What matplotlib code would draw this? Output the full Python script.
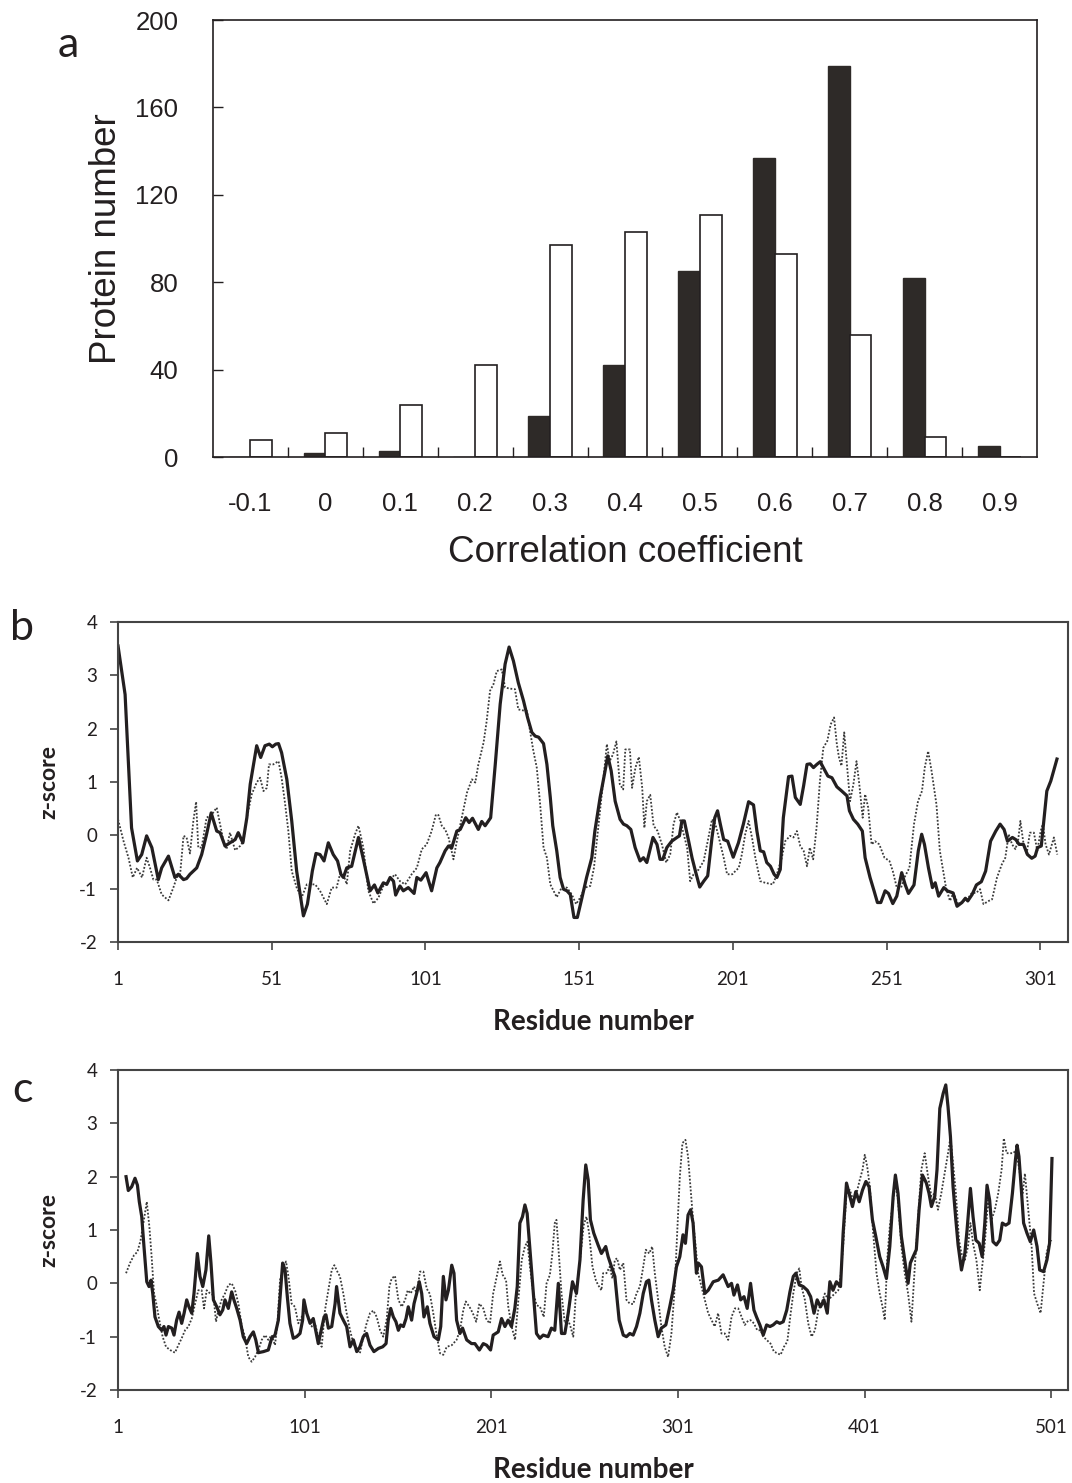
import matplotlib
matplotlib.use("Agg")
import matplotlib.pyplot as plt
import numpy as np

plt.rcParams["axes.unicode_minus"] = False

# panel a: histogram of correlation coefficients
categories = ["-0.1", "0", "0.1", "0.2", "0.3", "0.4", "0.5", "0.6", "0.7", "0.8", "0.9"]
black_counts = [0, 2, 3, 0, 19, 42, 85, 137, 179, 82, 5]
white_counts = [8, 11, 24, 42, 97, 103, 111, 93, 56, 9, 0]

# panel b: z-score profiles (residue, z)
b_solid = [
    (1, 3.55), (3.3, 2.64), (5.4, 0.14), (7.3, -0.48), (8.7, -0.36), (10.3, -0.01), (12, -0.23),
    (14.1, -0.83), (15.2, -0.61), (17.4, -0.39), (19.5, -0.79), (20.6, -0.73), (22.3, -0.83),
    (23.3, -0.81), (24.4, -0.73), (26.6, -0.61), (28.2, -0.36), (29.8, 0.02), (31.3, 0.42),
    (33.1, 0.08), (34.2, 0.05), (35.8, -0.2), (37.4, -0.14), (39.1, -0.08), (40.1, 0.05),
    (41.6, -0.14), (42.9, 0.33), (44, 0.96), (46.1, 1.68), (47.4, 1.46), (48.8, 1.68), (50.2, 1.71),
    (51.2, 1.66), (52.3, 1.71), (53.2, 1.72), (54.2, 1.55), (55.9, 1.05), (57.5, 0.27), (59.1, -0.67),
    (61.3, -1.51), (62.6, -1.29), (64.2, -0.67), (65.4, -0.34), (66.7, -0.36), (68, -0.48),
    (69.4, -0.14), (71, -0.36), (72.4, -0.48), (73.5, -0.73), (74.3, -0.79), (75.4, -0.61),
    (77, -0.58), (79.2, -0.04), (80.8, -0.45), (83, -1.04), (84.4, -0.93), (85.5, -1.08),
    (87.3, -0.89), (88.4, -0.92), (89.5, -0.79), (90.6, -0.86), (91.3, -1.12), (92.7, -0.95),
    (93.8, -1.04), (95.4, -0.98), (97.3, -1.09), (98.2, -0.79), (99.5, -0.84), (101.2, -0.7),
    (103, -1.04), (104.7, -0.61), (105.7, -0.51), (107.4, -0.29), (108.5, -0.2), (109.5, -0.24),
    (111.2, 0.08), (112.3, 0.11), (114.1, 0.33), (115.2, 0.24), (116.3, 0.32), (118.2, 0.11),
    (119.3, 0.26), (120.4, 0.18), (122.2, 0.33), (123.7, 1.33), (125.3, 2.46), (126.9, 3.21),
    (128.2, 3.53), (129.6, 3.27), (131.2, 2.86), (132.9, 2.52), (134.2, 2.21), (135.6, 1.93),
    (136.7, 1.86), (137.8, 1.84), (139.4, 1.72), (140.5, 1.33), (141.6, 0.71), (142.4, 0.18),
    (143.7, -0.29), (144.8, -0.79), (145.9, -1.01), (147, -1.04), (148.1, -1.11), (149.3, -1.54),
    (150.4, -1.54), (151.9, -1.17), (153.4, -0.79), (155.1, -0.42), (156.1, 0.08), (157.8, 0.71),
    (159.2, 1.14), (160.3, 1.49), (161.4, 1.21), (162.7, 0.64), (164.3, 0.3), (165.4, 0.21),
    (166.5, 0.18), (167.8, 0.11), (169.2, -0.23), (170.8, -0.48), (171.9, -0.42), (173, -0.51),
    (175, -0.04), (176.3, -0.17), (177.3, -0.45), (178.2, -0.45), (179.5, -0.23), (181.1, -0.11),
    (182.8, -0.04), (183.6, -0.01), (184.4, 0.27), (185.2, 0.27), (186.6, -0.11), (187.7, -0.42),
    (188.8, -0.67), (190.2, -0.97), (191.5, -0.86), (192.8, -0.76), (194.2, -0.04), (195.1, 0.33),
    (196, 0.46), (196.9, 0.21), (198, -0.08), (199.3, -0.11), (201.1, -0.41), (202.8, -0.14),
    (204.4, 0.21), (206.1, 0.63), (207.7, 0.57), (208.8, 0.08), (209.9, -0.29), (211, -0.31),
    (212, -0.51), (213.2, -0.58), (214.4, -0.73), (215.3, -0.79), (216.4, -0.64), (217.4, 0.33),
    (219.1, 1.1), (220.2, 1.11), (221.3, 0.71), (222.9, 0.58), (224, 0.93), (225.1, 1.33),
    (226.1, 1.34), (227.2, 1.27), (228.3, 1.33), (229.4, 1.38), (230.4, 1.27), (231.9, 1.11),
    (233.2, 1.08), (234.8, 0.91), (236.4, 0.83), (238.1, 0.74), (238.9, 0.46), (240.2, 0.3),
    (241.6, 0.21), (243.1, 0.08), (244, -0.42), (245.6, -0.79), (246.9, -1.04), (248, -1.26),
    (249.1, -1.26), (250.5, -1.04), (251.6, -1.09), (253, -1.28), (254.3, -1.14), (255.9, -0.7),
    (257, -0.92), (258.1, -1.09), (259.9, -0.93), (261.3, -0.29), (262.4, 0.02), (263.3, -0.17),
    (264.6, -0.61), (265.9, -0.98), (266.8, -0.89), (267.9, -1.14), (269.6, -0.98), (270.7, -1.04),
    (272.6, -1.08), (273.9, -1.33), (275.5, -1.26), (276.6, -1.18), (277.4, -1.23), (278.8, -1.11),
    (280.2, -0.93), (281.8, -0.87), (283.2, -0.67), (284.8, -0.11), (286.5, 0.08), (287.9, 0.21),
    (289.2, 0.11), (290.3, -0.11), (291.9, -0.04), (293, -0.08), (294.1, -0.17), (295.5, -0.17),
    (296.8, -0.36), (298.2, -0.43), (299.3, -0.39), (300.1, -0.23), (301.3, -0.2), (303.1, 0.83),
    (304.4, 1.02), (306.4, 1.43),
]
b_dotted = [
    (1, 0.3), (2.8, -0.11), (4.4, -0.42), (5.8, -0.79), (7.2, -0.61), (8.8, -0.79), (10.3, -0.42),
    (11.4, -0.61), (12.5, -0.83), (13.6, -0.83), (15.2, -1.11), (17.4, -1.22), (19, -0.98),
    (20.1, -0.79), (21.2, -0.73), (22.3, -0.01), (23.3, -0.04), (24.4, -0.34), (25.5, 0.27),
    (26.4, 0.63), (27.1, -0.23), (28.2, -0.23), (29.8, 0.33), (31.5, 0.39), (33.1, 0.52),
    (34.2, 0.21), (35.3, -0.11), (36.3, -0.26), (37.4, 0.05), (39.1, -0.28), (40.7, -0.2),
    (41.8, -0.11), (42.9, 0.33), (44.5, 0.77), (46.1, 0.99), (47.2, 1.08), (48.3, 0.83), (49.4, 0.89),
    (50.1, 1.33), (51.5, 1.33), (53.2, 1.39), (54.2, 1.08), (55.3, 0.61), (56.4, 0.08), (57.5, -0.67),
    (59.1, -0.98), (60.7, -1.17), (62.4, -0.92), (63.5, -0.92), (65.1, -0.92), (66.7, -1.04),
    (68.9, -1.29), (70.5, -0.98), (72.1, -0.98), (73.2, -0.73), (74.3, -0.73), (75.4, -0.92),
    (76.5, -0.29), (78.1, 0.02), (79.2, 0.18), (80.8, -0.23), (82.4, -1.04), (84.1, -1.28),
    (85.7, -1.17), (87.3, -0.95), (89, -0.86), (91.1, -0.73), (92.7, -0.86), (94.4, -0.92),
    (96.5, -0.73), (98.2, -0.61), (99.8, -0.26), (101.4, -0.17), (103, 0.08), (104.4, 0.39),
    (105.2, 0.38), (106.3, 0.18), (107.4, 0.11), (108.5, -0.04), (110.1, -0.45), (111.2, -0.11),
    (112.8, 0.33), (114.5, 0.8), (116.1, 1.05), (117.2, 0.99), (118.2, 1.33), (119.9, 1.74),
    (120.9, 2.14), (122, 2.71), (123.1, 2.83), (124.2, 3.08), (125.8, 3.11), (126.9, 2.77),
    (128.5, 2.75), (130.1, 2.74), (131.2, 2.36), (132.9, 2.34), (134, 2.33), (135, 1.96),
    (136.1, 1.58), (137.2, 1.27), (138.3, 0.58), (139.4, -0.23), (140.5, -0.42), (141.6, -0.92),
    (143.7, -1.16), (145.3, -0.98), (147, -0.98), (148.6, -1.11), (150, -1.29), (151.3, -1.17),
    (152.9, -0.98), (154.6, -0.95), (155.8, -0.61), (157.3, 0.21), (158.7, 0.96), (160, 1.71),
    (160.9, 1.39), (162, 1.52), (163.1, 1.76), (164.2, 0.96), (165.3, 0.86), (166, 1.61),
    (167.5, 1.61), (168.2, 0.89), (169.3, 1.27), (170.4, 1.47), (171.5, 0.89), (172.2, 0.14),
    (173, 0.64), (174.1, 0.76), (175.2, 0.18), (176.5, 0.08), (177.9, -0.17), (179.3, -0.51),
    (180.6, -0.36), (181.7, 0.21), (182.8, 0.43), (183.9, 0.27), (185, 0.02), (186.1, -0.23),
    (187.1, -0.86), (188.2, -0.73), (189.9, -0.64), (191.5, -0.48), (192.8, -0.11), (194.2, 0.3),
    (195.3, 0.21), (196.4, -0.04), (198, -0.42), (199.1, -0.73), (200.8, -0.73), (201.8, -0.67),
    (202.9, -0.61), (203.9, -0.36), (205, 0.02), (206.1, 0.27), (207.2, -0.04), (208.3, -0.42),
    (209.9, -0.86), (211.5, -0.89), (214, -0.92), (215.3, -0.73), (216.9, -0.42), (218, -0.11),
    (219.6, -0.01), (220.7, -0.04), (221.8, 0.08), (222.9, -0.2), (224, -0.29), (225.1, -0.58),
    (226, -0.23), (227.1, -0.45), (228.2, 0.14), (229.3, 1.02), (230.4, 1.64), (231.7, 1.77),
    (232.8, 2.08), (233.9, 2.21), (234.8, 1.71), (235.5, 1.46), (236.3, 1.3), (237.2, 1.93),
    (238, 1.39), (239.1, 0.64), (240.2, 0.96), (241.2, 1.39), (242.1, 0.96), (243.2, 0.33),
    (244, 0.77), (245, 0.52), (246.1, -0.17), (247.2, -0.11), (248.6, -0.17), (250.3, -0.42),
    (251.9, -0.48), (253, -0.67), (254.3, -0.98), (255.7, -0.98), (256.8, -0.79), (258.4, -0.61),
    (259.9, 0.21), (261.2, 0.64), (262.5, 0.83), (263.4, 1.27), (264.5, 1.58), (265.6, 1.21),
    (267.2, 0.58), (268.3, -0.29), (269.4, -0.67), (270.3, -0.98), (271.6, -1.23), (272.7, -1.08),
    (274.3, -1.29), (276, -1.23), (277.6, -1.17), (278.7, -1.08), (280.1, -1.08), (281.4, -1.01),
    (282.5, -1.29), (284.2, -1.23), (285.3, -1.2), (286.9, -0.79), (288.5, -0.54), (289.6, -0.42),
    (290.7, 0.02), (291.8, -0.17), (292.9, -0.26), (293.8, -0.08), (294.5, 0.27), (295.4, -0.11),
    (296.5, -0.36), (297.6, 0.05), (298.9, 0.05), (300, -0.29), (301.1, 0.08), (301.8, 0.21),
    (302.7, -0.17), (303.8, -0.36), (305.4, -0.04), (306.5, -0.36),
]

# panel c: z-score profiles (residue, z)
c_solid = [
    (5.3, 2.0), (6.5, 1.74), (8.3, 1.81), (10.1, 1.97), (11.4, 1.84), (12.4, 1.53), (13.7, 1.25),
    (14.9, 0.69), (16.4, 0.03), (17.6, -0.06), (18.7, 0.06), (19.6, -0.19), (20.8, -0.63),
    (22.6, -0.81), (24.4, -0.88), (25.6, -0.81), (26.7, -0.97), (28, -0.81), (29.8, -0.84),
    (31, -0.97), (32.4, -0.69), (33.7, -0.54), (35.1, -0.75), (36.4, -0.56), (37.8, -0.31),
    (39, -0.44), (40.5, -0.56), (41.7, -0.19), (43.5, 0.56), (44.9, 0.13), (46.4, -0.06),
    (48.1, 0.25), (49.6, 0.89), (50.8, 0.38), (52.1, -0.31), (53.9, -0.44), (55.6, -0.59),
    (57.1, -0.5), (58.3, -0.31), (60.1, -0.47), (61.9, -0.16), (63.1, -0.31), (64.6, -0.47),
    (66.4, -0.69), (68.1, -1.0), (69.9, -1.13), (71.7, -1.0), (73.5, -0.91), (74.8, -1.06),
    (76.2, -1.3), (78.9, -1.28), (81.5, -1.25), (83.3, -1.03), (85.1, -0.97), (86.9, -0.69),
    (88.1, -0.13), (89.2, 0.38), (90.5, 0.25), (91.7, -0.25), (93.1, -0.75), (94.9, -1.03),
    (96.7, -1.0), (98.5, -0.94), (99.9, -0.69), (100.6, -0.31), (102.1, -0.56), (103.9, -0.75),
    (105.6, -0.66), (106.9, -0.88), (108.3, -1.13), (110.1, -0.84), (111.4, -0.63), (112.4, -0.59),
    (113.7, -0.84), (115.5, -0.81), (117.3, -0.38), (118.1, -0.06), (119.9, -0.56), (121.7, -0.69),
    (123.5, -0.81), (125.3, -1.19), (127.1, -1.06), (128.9, -1.28), (130.6, -1.19), (132.4, -1.0),
    (134.2, -0.94), (136, -1.16), (138.1, -1.28), (140.5, -1.22), (142.8, -1.19), (144.6, -1.13),
    (145.8, -0.69), (147.1, -0.47), (148.5, -0.63), (149.9, -0.72), (151.2, -0.88), (152.4, -0.78),
    (153.9, -0.81), (155.3, -0.66), (156.5, -0.44), (158.3, -0.69), (159.6, -0.38), (161, -0.19),
    (162.4, 0.03), (163.7, -0.19), (164.9, -0.63), (166.7, -0.44), (168.1, -0.75), (170.3, -1.0),
    (172.6, -1.06), (173.9, -0.81), (175.3, 0.13), (176.7, -0.31), (178, -0.13), (179.8, 0.34),
    (181, 0.19), (182.4, -0.69), (184.2, -0.94), (185.6, -0.84), (187.8, -1.06), (190.4, -1.13),
    (192.2, -1.13), (194.6, -1.25), (196.7, -1.13), (198.5, -1.16), (200.6, -1.25), (202, -0.97),
    (204.7, -0.91), (206.5, -0.66), (208.3, -0.81), (210, -0.69), (211.8, -0.81), (213.6, -0.47),
    (214.9, -0.06), (216.3, 1.13), (217.7, 1.25), (219, 1.47), (220.2, 1.31), (221.6, 0.69),
    (223.4, -0.13), (225.2, -0.94), (227, -1.03), (228.8, -0.97), (231.4, -1.0), (233.2, -0.84),
    (235, -0.88), (236.9, 0.0), (238.6, -0.94), (240.4, -0.94), (242.2, -0.56), (244.5, 0.03),
    (246.6, -0.19), (248.5, 0.44), (250.2, 1.56), (251.6, 2.22), (252.9, 1.94), (254.1, 1.19),
    (255.9, 0.94), (258.2, 0.72), (260, 0.56), (262.3, 0.69), (263.6, 0.5), (265.4, 0.31),
    (267.2, 0.13), (268.1, -0.19), (269.5, -0.69), (271.7, -0.97), (273.4, -1.0), (275.2, -0.94),
    (277, -0.97), (278.8, -0.81), (280.6, -0.56), (282.4, -0.19), (284.1, 0.03), (285.4, 0.06),
    (286.8, -0.31), (288.6, -0.69), (290.4, -1.0), (292.1, -0.84), (294.5, -0.78), (296.6, -0.44),
    (298.4, -0.13), (300.2, 0.31), (302, 0.5), (303.7, 0.91), (305, 0.75), (306.4, 1.28),
    (307.8, 1.38), (309.1, 1.13), (310.9, 0.19), (311.9, 0.38), (313.6, 0.31), (315.4, -0.19),
    (317.2, -0.13), (319.9, 0.03), (322.6, 0.06), (325.2, 0.16), (327.9, -0.06), (329.7, 0.0),
    (331, -0.22), (332.9, -0.03), (334.6, -0.31), (336.4, -0.25), (338.1, -0.47), (339.9, 0.0),
    (341.7, -0.5), (343.1, -0.63), (344.9, -0.78), (346.7, -0.97), (348.5, -0.78), (350.3, -0.81),
    (352, -0.78), (353.9, -0.72), (355.6, -0.75), (357.4, -0.72), (359.3, -0.5), (361, -0.16),
    (362.8, 0.13), (364.2, 0.19), (366, -0.03), (368.1, -0.06), (370.3, -0.13), (372.1, -0.25),
    (373.9, -0.56), (375.6, -0.31), (377.4, -0.44), (379.2, -0.31), (381, -0.56), (382.4, 0.03),
    (384.1, -0.13), (385.9, 0.03), (388.1, -0.06), (389.5, 0.94), (391.3, 1.88), (393.1, 1.63),
    (394.5, 1.44), (396.3, 1.72), (398.1, 1.53), (399.9, 1.75), (401.7, 1.91), (403.4, 1.81),
    (405.2, 1.19), (407, 0.88), (409.1, 0.5), (410.9, 0.31), (412.7, 0.09), (414.5, 0.69),
    (416.3, 1.63), (417.5, 2.03), (418.9, 1.69), (420.7, 0.88), (422.5, 0.44), (424.3, 0.0),
    (425.5, 0.38), (427, 0.5), (428.7, 0.63), (430.2, 1.38), (432, 2.03), (434.1, 1.88),
    (435.5, 1.69), (436.8, 1.44), (438.6, 1.63), (439.8, 2.13), (441.3, 3.28), (443.1, 3.56),
    (444.5, 3.72), (445.7, 3.31), (447, 2.75), (448.4, 1.81), (449.9, 1.19), (451.1, 0.72),
    (452.9, 0.25), (454.7, 0.56), (455.9, 1.0), (457.7, 1.78), (459.1, 1.25), (460.6, 0.81),
    (462.4, 0.75), (464, 0.5), (465.4, 1.13), (466.6, 1.84), (468, 1.56), (469.8, 0.78),
    (471.6, 0.72), (473.4, 0.81), (474.8, 1.13), (476.6, 1.09), (478.4, 1.13), (480.2, 1.69),
    (481.8, 2.31), (482.7, 2.59), (483.7, 2.38), (485, 1.75), (486.2, 1.13), (488, 0.94),
    (489.8, 0.78), (491.6, 1.0), (493.4, 0.69), (494.8, 0.25), (496.9, 0.22), (498.7, 0.44),
    (500.1, 0.75), (501.4, 2.34),
]
c_dotted = [
    (5.3, 0.19), (7.4, 0.38), (9.6, 0.53), (11.4, 0.59), (13.1, 0.81), (14.6, 1.13), (16.4, 1.53),
    (17.8, 1.06), (19, 0.5), (20.3, -0.19), (21.7, -0.41), (23.1, -0.69), (24.9, -1.0), (26.7, -1.19),
    (28.9, -1.25), (31.5, -1.3), (33.3, -1.16), (35.1, -1.03), (36.9, -0.88), (38.7, -0.81),
    (40.5, -0.66), (42.3, -0.38), (44, -0.13), (45.8, -0.13), (47.1, -0.47), (48.5, -0.13),
    (50.3, -0.19), (52.1, -0.22), (53.5, -0.72), (54.8, -0.5), (56.5, -0.31), (58.3, -0.19),
    (60.1, -0.03), (61.9, 0.0), (63.7, -0.13), (65.5, -0.38), (67.3, -0.81), (69, -1.0),
    (70.8, -1.38), (72.6, -1.47), (74.4, -1.38), (76.2, -1.25), (78, -1.06), (79.8, -0.97),
    (81.5, -1.06), (83.3, -0.97), (85.1, -1.16), (86.4, -0.75), (87.8, 0.06), (89.6, 0.31),
    (91, 0.41), (92.3, 0.13), (94, -0.38), (95.8, -0.44), (97.6, -0.75), (99.4, -0.63),
    (101.2, -0.5), (103, -0.63), (104.8, -0.81), (106.5, -0.75), (108.3, -1.0), (110.1, -1.19),
    (111.9, -0.5), (113.7, -0.13), (115.5, 0.25), (116.9, 0.34), (118.5, 0.22), (119.9, 0.13),
    (121.7, -0.19), (123.5, -0.56), (125.3, -0.88), (127.1, -1.13), (128.9, -1.25), (130.6, -1.31),
    (132.4, -1.0), (134.2, -0.75), (136, -0.56), (137.8, -0.51), (139.6, -0.63), (141.4, -0.88),
    (143.1, -1.0), (144.9, -0.69), (146.4, -0.06), (147.6, 0.09), (149.4, 0.14), (151.2, -0.31),
    (153, -0.44), (154.8, -0.31), (156.2, -0.13), (157.8, -0.19), (159.6, -0.06), (161, -0.19),
    (162.8, 0.22), (164.6, 0.22), (166.4, -0.1), (168.1, -0.2), (169.9, -0.56), (171.7, -0.97),
    (173.5, -1.31), (175.3, -1.34), (177.1, -1.19), (179.8, -1.16), (182.4, -1.06), (184.2, -0.88),
    (186, -0.5), (187.3, -0.34), (189.3, -0.44), (191.1, -0.56), (192.9, -0.72), (194.6, -0.38),
    (196.7, -0.47), (198.5, -0.69), (200.3, -0.75), (202, -0.19), (203.9, 0.13), (205.6, 0.41),
    (207.1, 0.16), (208.9, 0.06), (210.1, -0.44), (211.9, -0.81), (213.7, -1.06), (215.5, -0.31),
    (217.3, 0.44), (219, 0.69), (220.3, 0.78), (221.7, 0.31), (223.5, -0.19), (225.3, -0.41),
    (227.1, -0.44), (229.1, -0.63), (230.6, 0.0), (232.4, 0.16), (233.7, 0.56), (235, 1.13),
    (235.9, 1.19), (237.4, 0.44), (238.6, -0.19), (240.4, -0.75), (242.2, -0.69), (243.4, -0.81),
    (244.9, -1.0), (246.3, -0.19), (247.5, 0.13), (249.3, 0.69), (250.5, 1.09), (252, 1.25),
    (253.4, 0.94), (255.2, 0.31), (257, 0.06), (258.2, -0.03), (260, -0.13), (260.9, 0.19),
    (262.7, 0.19), (264.4, 0.31), (265.9, 0.09), (267.2, 0.44), (268.4, 0.47), (269.9, 0.25),
    (271.7, 0.38), (273.4, -0.31), (275.2, -0.38), (277, -0.39), (278.8, -0.19), (280.6, -0.06),
    (282.4, 0.31), (283.8, 0.63), (285.6, 0.56), (287.2, 0.69), (288.6, 0.19), (290.4, -0.31),
    (292.1, -0.81), (293.9, -1.19), (295.7, -1.38), (297.5, -0.94), (299.3, -0.06), (300.5, 0.88),
    (302, 2.0), (303.4, 2.63), (305, 2.69), (306.4, 2.38), (307.7, 1.81), (309.1, 1.19),
    (310.5, 0.69), (311.8, 0.19), (313.6, -0.06), (315.4, -0.31), (317.2, -0.56), (319, -0.69),
    (320.7, -0.81), (322.5, -0.56), (324.3, -0.94), (326.1, -0.94), (327.9, -1.06), (329.7, -0.63),
    (331.5, -0.47), (333.3, -0.47), (335.1, -0.63), (336.8, -0.78), (338.6, -0.7), (339.9, -0.69),
    (341.7, -0.75), (343.5, -0.88), (345.3, -0.88), (346.7, -1.0), (348.5, -1.06), (350.6, -1.13),
    (352.4, -1.28), (354.2, -1.31), (356, -1.34), (357.8, -1.19), (359.6, -1.09), (361.4, -0.56),
    (362.8, -0.19), (364.6, 0.19), (366, 0.28), (367.2, -0.06), (369, -0.31), (370.8, -0.75),
    (372.6, -1.0), (374.4, -0.88), (376.2, -0.5), (377.9, -0.38), (379.7, -0.19), (381.5, -0.31),
    (383.3, -0.25), (385.1, -0.19), (386.9, -0.13), (388.1, 0.13), (389.5, 0.69), (391.3, 1.69),
    (393.1, 1.75), (394.9, 1.56), (396.7, 1.69), (398.4, 1.94), (399.9, 2.13), (401.1, 2.41),
    (402.4, 2.19), (403.8, 1.81), (405.6, 0.94), (407.4, 0.19), (409.1, -0.19), (410.6, -0.44),
    (411.8, -0.69), (413.1, 0.44), (414.5, 1.06), (416.3, 1.56), (417.5, 1.88), (418.9, 1.56),
    (420.7, 0.69), (422.5, 0.19), (424.3, -0.19), (426.1, -0.72), (427.9, 0.31), (429.6, 1.19),
    (431.4, 2.13), (433.2, 2.44), (435, 2.0), (436.8, 1.63), (438.6, 1.69), (440.3, 1.38),
    (442.1, 1.69), (443.9, 2.06), (445.7, 2.44), (447, 2.74), (448.4, 2.25), (449.9, 1.69),
    (451.6, 0.81), (452.9, 0.56), (454.7, 0.44), (456.4, 0.69), (457.7, 1.13), (459.1, 0.75),
    (460.9, 0.44), (462.7, -0.13), (463.6, 0.19), (465.4, 0.75), (467.2, 1.56), (469, 1.19),
    (470.8, 1.38), (472.6, 1.69), (474.4, 2.13), (475.6, 2.72), (477.1, 2.44), (478.9, 2.44),
    (480.7, 2.44), (482.1, 2.5), (483.9, 2.13), (485.7, 1.69), (486.9, 2.06), (488.7, 1.38),
    (490.5, 0.69), (491.8, -0.19), (493.5, -0.38), (495.3, -0.56), (496.7, -0.06), (498.5, 0.56),
    (499.9, 0.75), (501.1, 0.81),
]

dark = "#231f20"
cal = ["Lato", "DejaVu Sans"]
ari = ["Liberation Sans", "DejaVu Sans"]

fig = plt.figure(figsize=(10.72, 14.83), dpi=100)

# ---- panel a ----
ax = fig.add_axes([0.1987, 0.6918, 0.7687, 0.2947])
pos = np.arange(len(categories))
w = 0.29
ax.bar(pos - w / 2, black_counts, width=w, color="#2e2a28", edgecolor="#2e2a28", linewidth=1)
ax.bar(pos + w / 2, white_counts, width=w, color="white", edgecolor=dark, linewidth=1.2)
ax.set_xlim(-0.5, len(categories) - 0.5)
ax.set_ylim(0, 200)
ax.set_yticks([0, 40, 80, 120, 160, 200])
ax.set_xticks(pos)
ax.set_xticklabels(categories)
ax.set_xticks(pos[:-1] + 0.5, minor=True)
ax.tick_params(axis="x", which="major", length=0, pad=25, labelsize=18.5, colors=dark)
ax.tick_params(axis="x", which="minor", direction="in", length=7, width=1, color=dark)
ax.tick_params(axis="y", direction="in", length=7, width=1, pad=25, labelsize=18.5, colors=dark)
for lab in ax.get_xticklabels() + ax.get_yticklabels():
    lab.set_family(ari)
for s in ax.spines.values():
    s.set_color(dark)
    s.set_linewidth(1.2)
ax.set_xlabel("Correlation coefficient", family=ari, fontsize=26.5, color=dark, labelpad=14)
ax.set_ylabel("Protein number", family=ari, fontsize=26.5, color=dark, labelpad=8)


def zpanel(rect, solid, dotted, xmax, ticks):
    a = fig.add_axes(rect)
    sx, sy = zip(*solid)
    dx, dy = zip(*dotted)
    a.plot(dx, dy, color="#3a3a3a", linestyle=(0, (1, 1)), linewidth=1.3)
    a.plot(sx, sy, color="#231f20", linewidth=2.3)
    a.set_xlim(1, xmax)
    a.set_ylim(-2, 4)
    a.set_yticks(range(-2, 5))
    a.set_xticks(ticks)
    a.tick_params(axis="both", direction="out", length=6, width=1.2, color="#444444",
                  labelsize=13.5, colors=dark)
    a.tick_params(axis="x", pad=15)
    a.tick_params(axis="y", pad=9)
    for lab in a.get_xticklabels() + a.get_yticklabels():
        lab.set_family(cal)
    for s in a.spines.values():
        s.set_color("#444444")
        s.set_linewidth(1.5)
    a.set_xlabel("Residue number", family=cal, fontsize=20, fontweight="bold", color=dark, labelpad=15)
    a.set_ylabel("z-score", family=cal, fontsize=16.5, fontweight="bold", color=dark, labelpad=14)
    return a


zpanel([0.1101, 0.3648, 0.8862, 0.2158], b_solid, b_dotted, 310, [1, 51, 101, 151, 201, 251, 301])
zpanel([0.1101, 0.0627, 0.8862, 0.2158], c_solid, c_dotted, 510, [1, 101, 201, 301, 401, 501])

fig.text(68 / 1072, 1 - 45 / 1483, "a", family=cal, fontsize=31, color=dark, ha="center", va="center")
fig.text(22 / 1072, 1 - 628 / 1483, "b", family=cal, fontsize=31, color=dark, ha="center", va="center")
fig.text(22 / 1072, 1 - 1090 / 1483, "c", family=cal, fontsize=31, color=dark, ha="center", va="center")

fig.savefig("out.png", dpi=100)
